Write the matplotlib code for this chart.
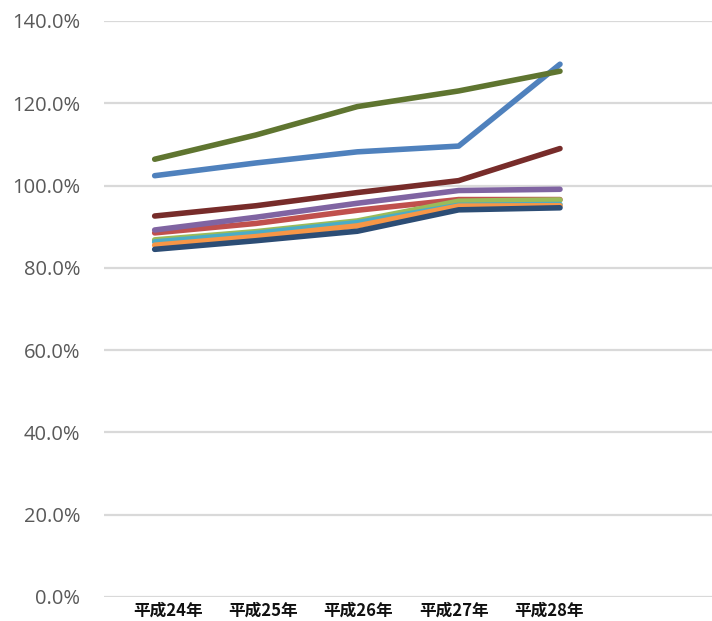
import matplotlib
matplotlib.use("Agg")
import matplotlib.pyplot as plt
import numpy as np

# Categories (fiscal years) and the ratio series, in percent
years = ["平成24年", "平成25年", "平成26年", "平成27年", "平成28年"]

series_blue = [102.4, 105.5, 108.2, 109.6, 129.5]
series_red = [88.5, 90.8, 94.0, 96.6, 96.6]
series_green = [86.8, 88.8, 91.4, 96.2, 96.5]
series_purple = [89.2, 92.3, 95.7, 98.8, 99.1]
series_cyan = [86.3, 88.4, 91.0, 95.2, 95.4]
series_orange = [85.5, 87.6, 90.2, 95.0, 95.1]
series_navy = [84.5, 86.6, 88.9, 94.1, 94.6]
series_maroon = [92.6, 95.1, 98.3, 101.2, 109.0]
series_olive = [106.4, 112.3, 119.2, 123.0, 127.8]

yticks = [0, 20, 40, 60, 80, 100, 120, 140]

all_series = [
    (series_blue, "#4F81BD"),
    (series_red, "#C0504D"),
    (series_green, "#9BBB59"),
    (series_purple, "#8064A2"),
    (series_cyan, "#4BACC6"),
    (series_orange, "#F79646"),
    (series_navy, "#2C4D75"),
    (series_maroon, "#772C2A"),
    (series_olive, "#5F7530"),
]

fig = plt.figure(figsize=(7.12, 6.21), dpi=100)
ax = fig.add_axes([104 / 712, 24 / 621, 608 / 712, 576 / 621])

x = np.arange(len(years))
for values, color in all_series:
    ax.plot(x, values, color=color, linewidth=4.0, solid_capstyle="round",
            solid_joinstyle="round", zorder=3)

# Six category slots; the last one is left empty
ax.set_xlim(-0.5, 5.5)
ax.set_ylim(0, 140)

ax.set_yticks(yticks)
ax.set_yticklabels([f"{v:.1f}%" for v in yticks], fontfamily="Open Sans",
                   fontsize=14.5, color="#595959")
ax.grid(axis="y", color="#D9D9D9", linewidth=1.6, zorder=0)
ax.tick_params(axis="y", length=0, pad=17)

# Category labels sit on a slightly narrower pitch than the plotted points
label_step = 0.94
label_offset = 0.13
ax.set_xticks(np.arange(len(years)) * label_step + label_offset)
ax.set_xticklabels(years, fontfamily=["Noto Sans CJK JP", "DejaVu Sans"],
                   fontsize=12, fontweight="bold", color="#111111")
ax.tick_params(axis="x", length=0, pad=3.5)

for side in ["top", "right", "left", "bottom"]:
    ax.spines[side].set_visible(False)

fig.savefig("out.png", dpi=100)
